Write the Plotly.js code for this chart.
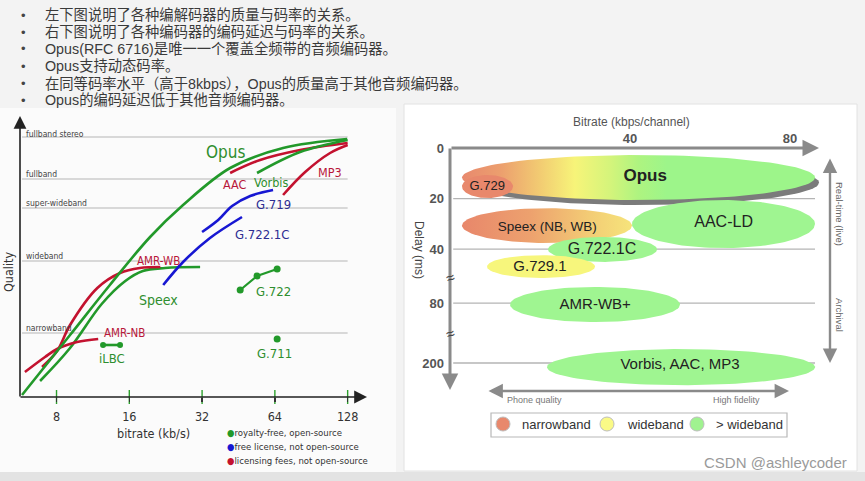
<!DOCTYPE html>
<html><head><meta charset="utf-8">
<script src="https://cdn.plot.ly/plotly-3.0.1.min.js"></script>
<style>html,body{margin:0;padding:0;background:#f2f2f2}#chart{width:865px;height:481px}</style>
</head><body><div id="chart"></div>
<script>
// ================= DATA =================
const bullets = [
  '左下图说明了各种编解码器的质量与码率的关系。',
  '右下图说明了各种编码器的编码延迟与码率的关系。',
  'Opus(RFC 6716)是唯一一个覆盖全频带的音频编码器。',
  'Opus支持动态码率。',
  '在同等码率水平（高于8kbps），Opus的质量高于其他音频编码器。',
  'Opus的编码延迟低于其他音频编码器。'
];

// left chart: quality vs bitrate (kb/s, log2 scale)
const qualityLevels = ['fullband stereo', 'fullband', 'super-wideband', 'wideband', 'narrowband'];
const qualityValues = [260, 218, 189, 136, 64];
const bitrateTicks = [8, 16, 32, 64, 128];
const bitrateTickText = ['8', '16', '32', '64', '128'];

const opusRate = [5.76, 9.1, 13.3, 19.5, 26.7, 41.8, 69.2, 127.4];
const opusQ    = [2, 62, 112, 160, 192, 229, 249, 258];
const speexRate = [6.84, 9.1, 12.3, 15.4, 18.2, 22.5, 31.4];
const speexQ    = [16, 49, 93, 116, 126, 129, 130];
const amrNbRate = [5.92, 7.17, 8.04, 9.73, 11.9];
const amrNbQ    = [25, 40, 48, 55, 58];
const amrWbRate = [6.97, 8.04, 9.1, 11.8, 14.65, 17.7, 21.5];
const amrWbQ    = [30, 46, 72, 109, 124, 129, 130];
const ilbcRate = [12.46, 14.65];
const ilbcQ    = [52, 52];
const g722Rate = [46, 54, 65.4];
const g722Q    = [107, 121, 128];
const g711Rate = [65.4];
const g711Q    = [58];
const g7221cRate = [22.1, 26.7, 34.5, 46.8];
const g7221cQ    = [112, 135, 159, 180];
const g719Rate = [32, 37.3, 42.6, 50.6, 62.9];
const g719Q    = [165, 177, 191, 201, 207];
const aacRate = [41.8, 55.6, 81.4, 128];
const aacQ    = [224, 237, 247, 254];
const vorbisRate = [54, 81.4, 128];
const vorbisQ    = [224, 245, 257];
const mp3Rate = [69.2, 85.4, 108.3, 128];
const mp3Q    = [202, 225, 244, 252];
const licenseText = ['royalty-free, open-source', 'free license, not open-source', 'licensing fees, not open-source'];

// right chart: delay (ms) vs bitrate (kbps/channel)
const codecNames = ['Opus', 'G.729', 'Speex (NB, WB)', 'AAC-LD', 'G.722.1C', 'G.729.1', 'AMR-WB+', 'Vorbis, AAC, MP3'];
const codecBand  = ['mixed', 'narrowband', 'mixed', '>wideband', '>wideband', 'wideband', '>wideband', '>wideband'];
const rateLow  = [-2, -2, -2, 40.5, 19.5, 4.25, 10, 19.25];
const rateHigh = [86.25, 10.75, 40.5, 86.25, 46.75, 31.25, 52.5, 86.25];
const delayLow  = [2.8, 10.7, 23.8, 20.6, 35.2, 42.4, 73.6, 194.5];
const delayHigh = [20.6, 19.8, 37.6, 39.6, 45.1, 51.5, 87.5, 208.8];
const delayTicks = [0, 20, 40, 80, 200];
const rateTicks = [40, 80];
const bandNames = ['narrowband', 'wideband', '> wideband'];

// ================= HELPERS =================
const W = 865, H = 481;
const PX = x => x / W, PY = y => 1 - y / H;
// broken delay axis -> axis position
function dpos(d) { if (d <= 60) return d; if (d <= 140) return d - 80 + 61.4; return d - 200 + 85.1; }
function ellipse(x0, x1, y0, y1, dx, dy) {
  dx = dx || 0; dy = dy || 0;
  const cx = (x0 + x1) / 2 + dx, cy = (dpos(y0) + dpos(y1)) / 2 + dy, rx = (x1 - x0) / 2, ry = (dpos(y1) - dpos(y0)) / 2;
  const xs = [], ys = [];
  for (let i = 0; i <= 120; i++) { const t = 2 * Math.PI * i / 120; xs.push(cx + rx * Math.cos(t)); ys.push(cy + ry * Math.sin(t)); }
  return { xs, ys };
}
const LF = 'DejaVu Sans Condensed, DejaVu Sans, sans-serif';
const RF = 'Liberation Sans, Arial, sans-serif';
const CJK = 'Liberation Sans, Noto Sans CJK SC, sans-serif';
const GREEN = '#22992a', RED = '#c3122f', BLUE = '#1717d2';
const GREENT = '#2e8e2e', REDT = '#b8173a', BLUET = '#2d2d92';

function T(text, x, y, size, color, family, extra) {
  return Object.assign({ text, x: PX(x), y: PY(y), xref: 'paper', yref: 'paper', showarrow: false,
    font: { size, color, family }, xanchor: 'center', yanchor: 'middle' }, extra || {});
}
function A(x0, y0, x1, y1, color, width, head, size, side) {
  return { x: PX(x1), y: PY(y1), xref: 'paper', yref: 'paper', ax: x0 - x1, ay: y0 - y1, axref: 'pixel', ayref: 'pixel',
    text: '', showarrow: true, arrowhead: head, arrowsize: size, arrowwidth: width, arrowcolor: color, arrowside: side || 'end', standoff: 0, startstandoff: 0 };
}

// ================= TRACES =================
const traces = [];
function line(x, y, color, extra) {
  traces.push(Object.assign({ type: 'scatter', mode: 'lines', x, y, xaxis: 'x', yaxis: 'y',
    line: { color, width: 2.6, shape: 'spline', smoothing: 1 }, hoverinfo: 'skip' }, extra || {}));
}
line(speexRate, speexQ, GREEN);
line(amrNbRate, amrNbQ, RED);
line(amrWbRate, amrWbQ, RED);
line(opusRate, opusQ, GREEN);
line(g7221cRate, g7221cQ, BLUE);
line(g719Rate, g719Q, BLUE);
line(aacRate, aacQ, RED);
line(vorbisRate, vorbisQ, GREEN);
line(mp3Rate, mp3Q, RED);
line(ilbcRate, ilbcQ, GREEN, { mode: 'lines+markers', marker: { size: 6, color: GREEN } });
line(g722Rate, g722Q, GREEN, { mode: 'lines+markers', marker: { size: 7, color: GREEN }, line: { color: GREEN, width: 2.2 } });
line(g711Rate, g711Q, GREEN, { mode: 'markers', marker: { size: 7, color: GREEN } });
// tick marks crossing the bitrate axis
traces.push({ type: 'scatter', mode: 'markers', x: bitrateTicks, y: bitrateTicks.map(() => 0), xaxis: 'x', yaxis: 'y',
  cliponaxis: false, marker: { symbol: 'line-ns-open', size: 10, line: { width: 1.4, color: '#333' } }, hoverinfo: 'skip' });

// right chart ellipses
const bandColor = { 'narrowband': '#e8886c', 'wideband': '#f7f67c', '>wideband': '#9ff591' };
const gradOpus = [[0, '#e8896e'], [0.11, '#ec9f6e'], [0.22, '#f2cb72'], [0.32, '#f7f479'], [0.42, '#d4f47b'], [0.5, '#aef480'], [0.58, '#9df58a'], [1, '#9df58a']];
const gradSpeex = [[0, '#e8876b'], [0.4, '#eda16e'], [0.75, '#f3cc75'], [1, '#f6e47b']];
codecNames.forEach((n, i) => {
  if (i === 0) {
    const s = ellipse(rateLow[i], rateHigh[i], delayLow[i], delayHigh[i], 1, 2);
    traces.push({ type: 'scatter', mode: 'lines', x: s.xs, y: s.ys, xaxis: 'x2', yaxis: 'y2', fill: 'toself',
      fillcolor: '#7b7b7b', line: { width: 0, color: 'rgba(0,0,0,0)' }, hoverinfo: 'skip' });
  }
  const e = ellipse(rateLow[i], rateHigh[i], delayLow[i], delayHigh[i]);
  const tr = { type: 'scatter', mode: 'lines', x: e.xs, y: e.ys, xaxis: 'x2', yaxis: 'y2', fill: 'toself',
    line: { width: 0, color: 'rgba(0,0,0,0)' }, hoverinfo: 'skip' };
  if (codecBand[i] === 'mixed') {
    tr.fillcolor = '#c8f080';
    tr.fillgradient = { type: 'horizontal', colorscale: i === 0 ? gradOpus : gradSpeex };
  } else tr.fillcolor = bandColor[codecBand[i]];
  traces.push(tr);
});
// labels of the ellipses
traces.push({ type: 'scatter', mode: 'text', xaxis: 'x2', yaxis: 'y2', hoverinfo: 'skip', cliponaxis: false,
  x: [43.8, 4.3, 19.3, 63.4, 33, 17.5, 31.3, 52.5],
  y: [11.5, 15.5, 31.5, 29.8, 40.5, 47.3, dpos(80.8), dpos(200.8)],
  text: codecNames,
  textfont: { family: RF, color: '#222', size: [17, 13, 13.5, 16, 16, 15, 15, 15], weight: [700, 400, 400, 400, 400, 400, 400, 400] } });

// ================= SHAPES =================
const shapes = [
  { type: 'rect', xref: 'paper', yref: 'paper', x0: 0, x1: 1, y0: PY(481), y1: PY(472), fillcolor: '#e3e3e3', line: { width: 0 }, layer: 'below' },
  { type: 'rect', xref: 'paper', yref: 'paper', x0: 0, x1: PX(396), y0: PY(472), y1: PY(108), fillcolor: '#fbfbfb', line: { width: 0 }, layer: 'below' },
  { type: 'rect', xref: 'paper', yref: 'paper', x0: PX(404), x1: PX(857), y0: PY(471), y1: PY(104), fillcolor: '#ffffff', line: { width: 1, color: '#e2e2e2' }, layer: 'below' }
];
qualityValues.forEach(q => shapes.push({ type: 'line', xref: 'x', yref: 'y', x0: 5.76, x1: 128, y0: q, y1: q,
  line: { color: '#cdcdcd', width: 1.6 }, layer: 'below' }));
[20, 40, 80, 200].forEach(d => shapes.push({ type: 'line', xref: 'x2', yref: 'y2', x0: -4.2, x1: 86.25, y0: dpos(d), y1: dpos(d),
  line: { color: '#b4b4b4', width: 1.3 }, layer: 'below' }));
// legend box of right chart
shapes.push({ type: 'rect', xref: 'paper', yref: 'paper', x0: PX(491), x1: PX(787), y0: PY(437), y1: PY(413), fillcolor: '#fff', line: { color: '#b8b8b8', width: 1.2 } });
const legendCircleX = [503, 607, 697];
const legendColors = ['#e8886c', '#fafa86', '#a0f290'];
legendCircleX.forEach((cx, i) => shapes.push({ type: 'circle', xref: 'paper', yref: 'paper', x0: PX(cx - 7), x1: PX(cx + 7), y0: PY(431), y1: PY(417),
  fillcolor: legendColors[i], line: { color: '#bdbdbd', width: 1 } }));

// ================= ANNOTATIONS =================
const ann = [];
bullets.forEach((b, i) => {
  const y = 15 + i * 17;
  ann.push(T('•', 23, y, 13, '#444', CJK));
  ann.push(T(b, 43, y, 14.3, '#3a3a3a', CJK, { xanchor: 'left' }));
});
// left chart axes
ann.push(A(20, 398, 20, 116, '#222', 1.6, 2, 1.6));
ann.push(A(19, 397, 367, 397, '#222', 1.6, 2, 1.6));
ann.push(T('Quality', 8, 272, 12.5, '#333', LF, { textangle: -90 }));
ann.push(T('bitrate (kb/s)', 153, 433, 12.5, '#333', LF));
const levelY = [134, 174, 203, 256, 328];
qualityLevels.forEach((l, i) => ann.push(T(l, 24, levelY[i], 8.5, '#444', LF, { xanchor: 'left' })));
// curve labels
ann.push(T('Opus', 226, 152, 17, GREENT, LF));
ann.push(T('AAC', 235, 185, 12.5, REDT, LF));
ann.push(T('Vorbis', 271, 182, 12.5, GREENT, LF));
ann.push(T('MP3', 330, 172, 12.5, REDT, LF));
ann.push(T('G.719', 273, 205, 13, BLUET, LF));
ann.push(T('G.722.1C', 262, 234, 13, BLUET, LF));
ann.push(T('AMR-WB', 158, 261, 11.5, REDT, LF));
ann.push(T('Speex', 158, 300, 14, GREENT, LF));
ann.push(T('G.722', 273, 291, 13, GREENT, LF));
ann.push(T('AMR-NB', 124, 333, 11.5, REDT, LF));
ann.push(T('iLBC', 112, 358, 13, GREENT, LF));
ann.push(T('G.711', 274, 353, 13, GREENT, LF));
const licColors = [GREEN, BLUE, RED];
licenseText.forEach((t, i) => ann.push(T('<span style="color:' + licColors[i] + '">●</span>' + t, 225, 432 + i * 14.3, 9.5, '#333', LF, { xanchor: 'left' })));

// right chart axes and decorations
ann.push(A(450, 148, 819, 148, '#8a8a8a', 3, 2, 1.1));
ann.push(A(450, 147, 450, 390, '#8a8a8a', 3, 2, 1.1));
ann.push(A(487, 391, 789, 391, '#8a8a8a', 2.4, 2, 1.2, 'end+start'));
ann.push(A(830, 157, 830, 363, '#8a8a8a', 2.4, 2, 1.2, 'end+start'));
ann.push(T('≈', 450, 277, 15, '#444', RF, { textangle: -20 }));
ann.push(T('≈', 450, 333, 15, '#444', RF, { textangle: -20 }));
ann.push(T('Bitrate (kbps/channel)', 631, 122, 12, '#555', RF));
ann.push(T('Delay (ms)', 419, 250, 12, '#444', RF, { textangle: 90 }));
ann.push(T('Real-time (live)', 840, 214, 9.5, '#666', RF, { textangle: 90 }));
ann.push(T('Archival', 840, 315, 9.5, '#666', RF, { textangle: 90 }));
ann.push(T('Phone quality', 534, 400, 9, '#777', RF));
ann.push(T('High fidelity', 736, 400, 9, '#777', RF));
const legendTextX = [520, 625, 714];
bandNames.forEach((b, i) => ann.push(T(b, legendTextX[i], 424, 13, '#333', RF, { xanchor: 'left' })));
ann.push(T('CSDN @ashleycoder', 775, 462, 15, '#9a9a9a', RF));

// ================= LAYOUT =================
const layout = {
  width: W, height: H, margin: { l: 0, r: 0, t: 0, b: 0 },
  paper_bgcolor: '#f3f3f3', plot_bgcolor: 'rgba(0,0,0,0)', showlegend: false, hovermode: false,
  xaxis: { type: 'log', domain: [PX(20), PX(365)], range: [Math.log10(5.65), Math.log10(151)], anchor: 'y',
    tickvals: bitrateTicks, ticktext: bitrateTickText, ticks: 'outside', ticklen: 4, tickwidth: 1.4, tickcolor: '#333',
    ticklabelstandoff: 4, tickfont: { family: LF, size: 12.5, color: '#333' }, showgrid: false, zeroline: false, showline: false },
  yaxis: { domain: [PY(397), PY(120)], range: [0, 277], anchor: 'x', showgrid: false, zeroline: false, showticklabels: false, ticks: '' },
  xaxis2: { domain: [PX(450), PX(820)], range: [-5, 87.5], anchor: 'y2', side: 'top', tickvals: rateTicks, ticks: '',
    ticklabelstandoff: 1, tickfont: { family: RF, size: 13, color: '#555', weight: 700 }, showgrid: false, zeroline: false, showline: false },
  yaxis2: { domain: [PY(388), PY(148)], range: [95, 0], anchor: 'x2', tickvals: delayTicks.map(dpos), ticktext: delayTicks.map(String),
    ticks: '', ticklabelstandoff: 5, tickfont: { family: RF, size: 13, color: '#555', weight: 700 }, showgrid: false, zeroline: false, showline: false },
  shapes, annotations: ann
};
Plotly.newPlot('chart', traces, layout, { staticPlot: true, displayModeBar: false });
</script></body></html>
